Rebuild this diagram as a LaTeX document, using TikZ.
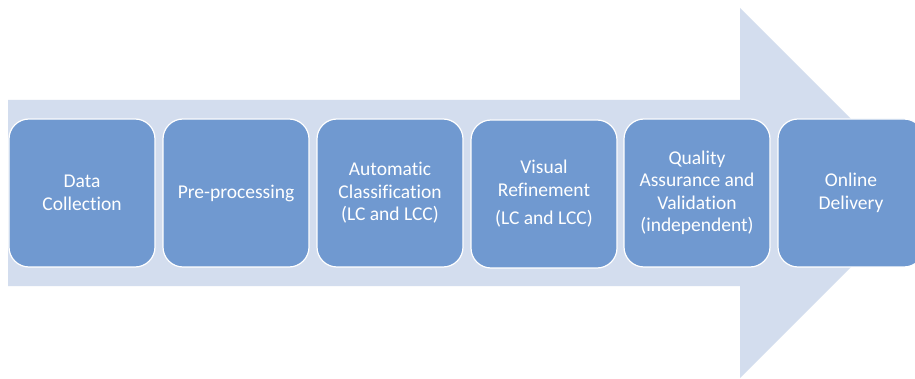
\documentclass[tikz,border=0pt]{standalone}
\usepackage{fontspec}
\setmainfont[Ligatures=NoCommon]{Carlito}
\definecolor{arrowfill}{RGB}{211,221,238}
\definecolor{boxfill}{RGB}{112,153,208}
\tikzset{
  stepbox/.style={draw=white, line width=1.2pt, fill=boxfill, rounded corners=20pt,
    minimum width=146pt, minimum height=148pt, inner sep=2pt, align=center,
    text=white, font=\fontsize{19.5}{22.5}\selectfont},
}
\begin{document}
\begin{tikzpicture}[x=1pt,y=-1pt]
\useasboundingbox (0,0) rectangle (915,379);
\clip (0,0) rectangle (915,379);
\fill[white] (0,0) rectangle (915,379);
\fill[arrowfill] (8,100) -- (740,100) -- (740,8) -- (925,193) -- (740,378) -- (740,286) -- (8,286) -- cycle;
\node[stepbox] (b1) at (82,193) {Data\\Collection};
\node[stepbox] (b2) at (236,193) {Pre-processing};
\node[stepbox] (b3) at (390,193) {Automatic\\Classification\\(LC and LCC)};
\node[stepbox] (b4) at (544,194) {Visual\\Refinement\\[6pt](LC and LCC)};
\node[stepbox] (b5) at (697,193) {Quality\\Assurance and\\Validation\\(independent)};
\node[stepbox] (b6) at (851,193) {Online\\Delivery};
\end{tikzpicture}
\end{document}
